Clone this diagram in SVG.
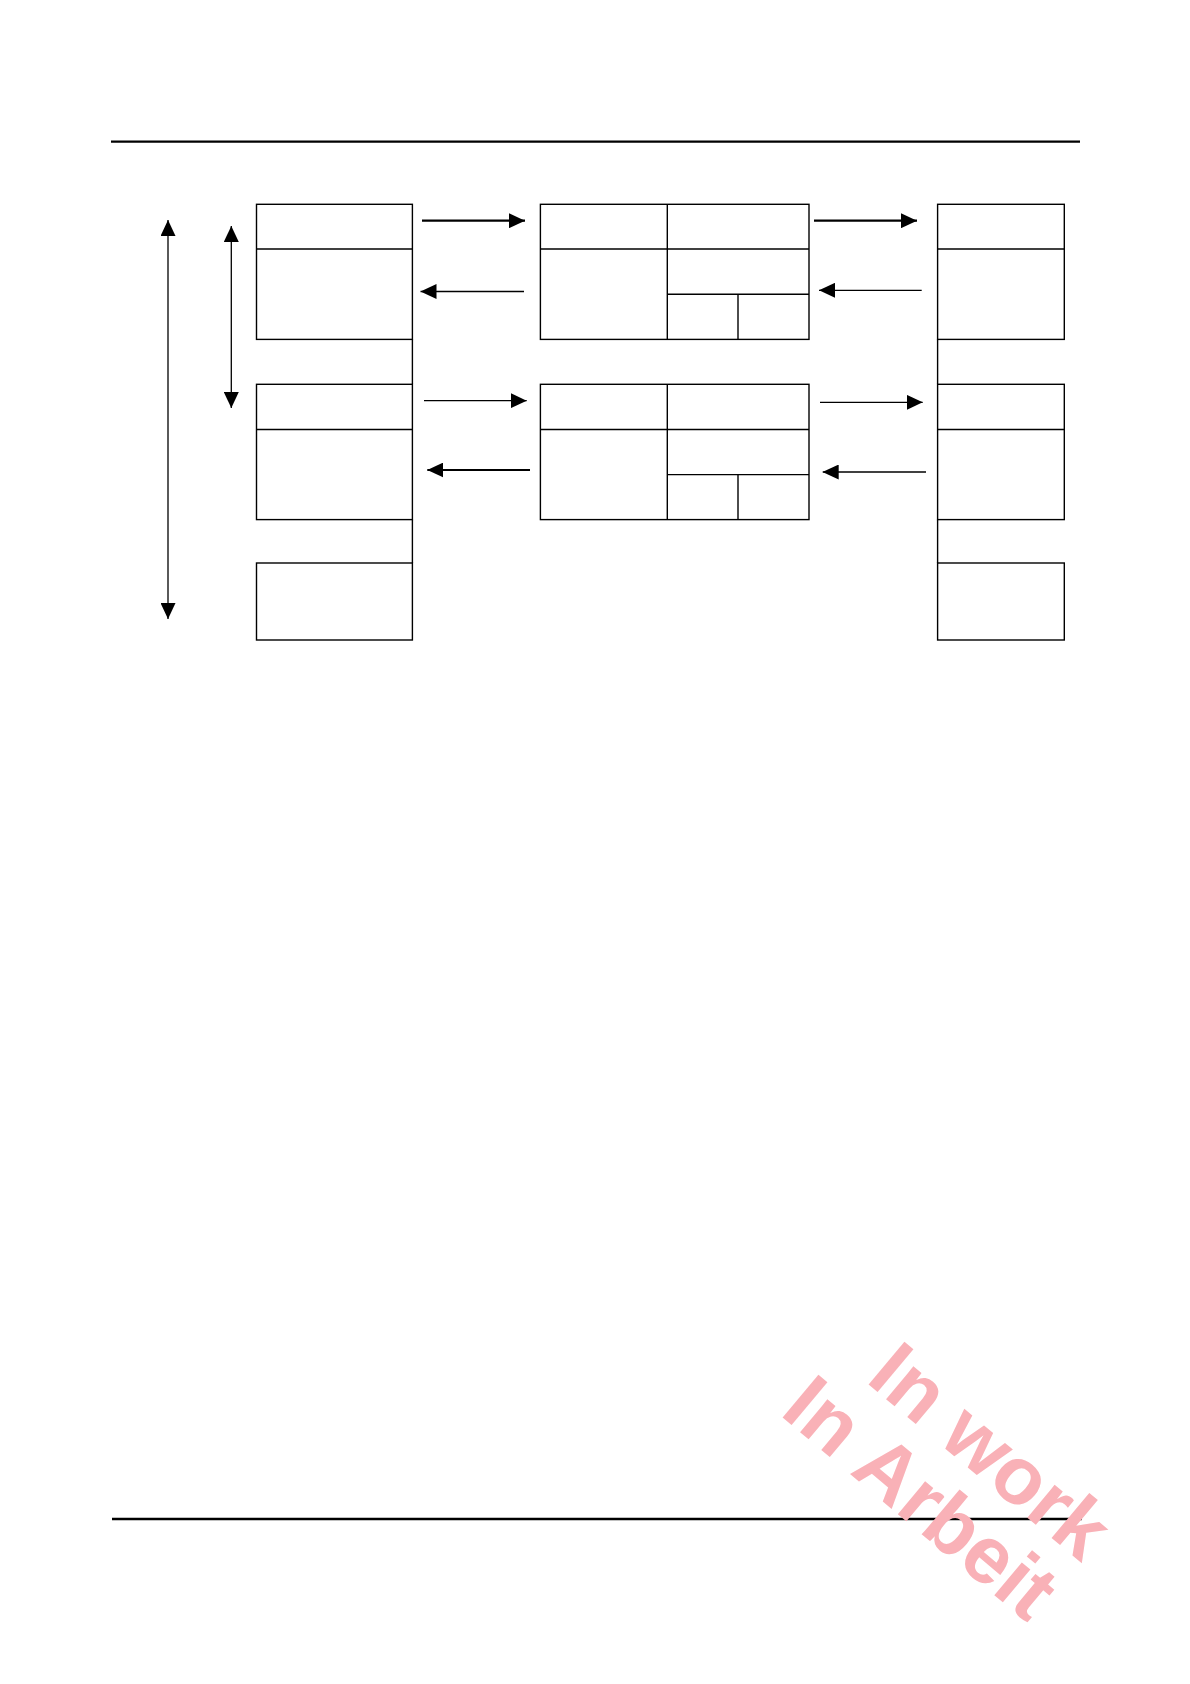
<svg xmlns="http://www.w3.org/2000/svg" width="1190" height="1684" viewBox="0 0 1190 1684">
<style>
.box{fill:none;stroke:#000;stroke-width:1.4}
.ln{stroke:#000;stroke-width:1.4;fill:none}
.rule{stroke:#000;stroke-width:2.3}
.thin{stroke:#000;stroke-width:1.3;fill:none}
.thick{stroke:#000;stroke-width:2.2;fill:none}
.wm{font-family:"Liberation Sans",Arial,sans-serif;font-weight:bold;font-size:81px;fill:#F9B1B7}
</style>
<defs>
<marker id="ah" viewBox="0 0 16 15" refX="16" refY="7.5" markerWidth="16" markerHeight="15" markerUnits="userSpaceOnUse" orient="auto">
<path d="M0,0 L16,7.5 L0,15 z" fill="#000"/>
</marker>
<marker id="ahs" viewBox="0 0 16 15" refX="0" refY="7.5" markerWidth="16" markerHeight="15" markerUnits="userSpaceOnUse" orient="auto">
<path d="M16,0 L0,7.5 L16,15 z" fill="#000"/>
</marker>
</defs>
<rect width="1190" height="1684" fill="#fff"/>
<line class="rule" x1="111" y1="141.7" x2="1080" y2="141.7"/>
<line class="rule" x1="112" y1="1519" x2="1081.7" y2="1519"/>

<g id="L1">
<rect class="box" x="256.5" y="204.3" width="155.9" height="135.1"/>
<line class="ln" x1="256.5" y1="249" x2="412.4" y2="249"/>
</g>
<g id="L2">
<rect class="box" x="256.5" y="384.3" width="155.9" height="135.3"/>
<line class="ln" x1="256.5" y1="429.5" x2="412.4" y2="429.5"/>
</g>
<g id="L3">
<rect class="box" x="256.5" y="563" width="155.9" height="77"/>
</g>

<g id="M1">
<rect class="box" x="540.4" y="204.3" width="268.6" height="135.1"/>
<line class="ln" x1="540.4" y1="249" x2="809" y2="249"/>
<line class="ln" x1="667.3" y1="204.3" x2="667.3" y2="339.4"/>
<line class="ln" x1="667.3" y1="294.3" x2="809" y2="294.3"/>
<line class="ln" x1="738" y1="294.3" x2="738" y2="339.4"/>
</g>
<g id="M2">
<rect class="box" x="540.4" y="384.3" width="268.6" height="135.3"/>
<line class="ln" x1="540.4" y1="429.5" x2="809" y2="429.5"/>
<line class="ln" x1="667.3" y1="384.3" x2="667.3" y2="519.6"/>
<line class="ln" x1="667.3" y1="474.6" x2="809" y2="474.6"/>
<line class="ln" x1="738" y1="474.6" x2="738" y2="519.6"/>
</g>

<g id="R1">
<rect class="box" x="937.6" y="204.3" width="126.7" height="135.1"/>
<line class="ln" x1="937.6" y1="249" x2="1064.3" y2="249"/>
</g>
<g id="R2">
<rect class="box" x="937.6" y="384.3" width="126.7" height="135.3"/>
<line class="ln" x1="937.6" y1="429.5" x2="1064.3" y2="429.5"/>
</g>
<g id="R3">
<rect class="box" x="937.6" y="563" width="126.7" height="77"/>
</g>

<g id="connectors">
<line class="ln" x1="412.4" y1="339.4" x2="412.4" y2="384.3"/>
<line class="ln" x1="412.4" y1="519.6" x2="412.4" y2="563"/>
<line class="ln" x1="937.6" y1="339.4" x2="937.6" y2="384.3"/>
<line class="ln" x1="937.6" y1="519.6" x2="937.6" y2="563"/>

<line class="thin" x1="168" y1="220" x2="168" y2="619" marker-start="url(#ahs)" marker-end="url(#ah)"/>
<line class="thin" x1="231.3" y1="226" x2="231.3" y2="408" marker-start="url(#ahs)" marker-end="url(#ah)"/>

<line class="thick" x1="422" y1="220.7" x2="525" y2="220.7" marker-end="url(#ah)"/>
<line class="thin" x1="524" y1="291.5" x2="420.5" y2="291.5" marker-end="url(#ah)"/>
<line class="thick" x1="814" y1="220.7" x2="917" y2="220.7" marker-end="url(#ah)"/>
<line class="thin" x1="921.7" y1="290.3" x2="819" y2="290.3" marker-end="url(#ah)"/>

<line class="thin" x1="424" y1="400.7" x2="526.7" y2="400.7" marker-end="url(#ah)"/>
<line class="thick" x1="530" y1="470" x2="427.3" y2="470" marker-end="url(#ah)"/>
<line class="thin" x1="820" y1="402.3" x2="922.7" y2="402.3" marker-end="url(#ah)"/>
<line class="thin" x1="926" y1="472" x2="822.7" y2="472" marker-end="url(#ah)"/>
</g>

<text class="wm" transform="translate(864.5,1381) rotate(40)">In work</text>
<text class="wm" transform="translate(778.5,1414) rotate(40)">In Arbeit</text>
</svg>
